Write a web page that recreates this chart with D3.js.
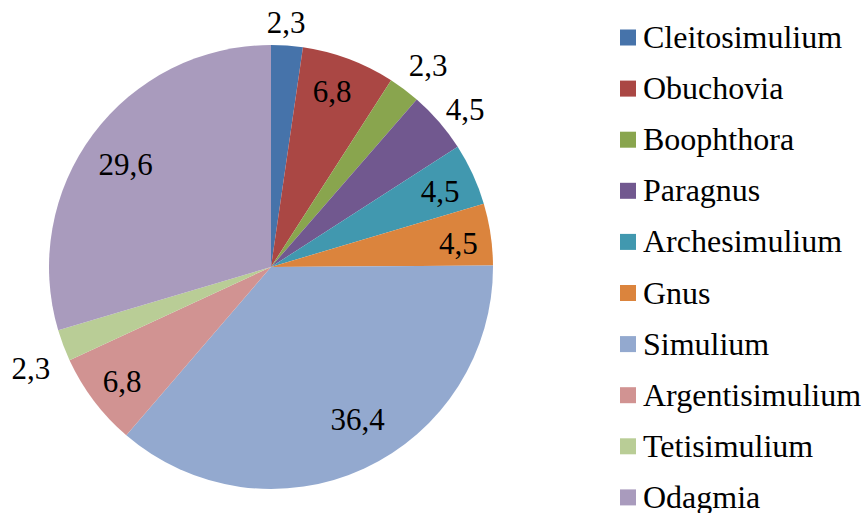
<!DOCTYPE html>
<html>
<head>
<meta charset="utf-8">
<script src="https://cdn.jsdelivr.net/npm/d3@7"></script>
</head>
<body style="margin:0">
<svg id="chart" width="864" height="513"></svg>
<script>
/******************************************************
 * Pie chart of genus shares (%)
*******************************************************/

//! DATA
const genera = ["Cleitosimulium", "Obuchovia", "Boophthora", "Paragnus", "Archesimulium",
                "Gnus", "Simulium", "Argentisimulium", "Tetisimulium", "Odagmia"];
const shares = [2.3, 6.8, 2.3, 4.5, 4.5, 4.5, 36.4, 6.8, 2.3, 29.6];
const colors = ["#4673AA", "#AA4744", "#89A54E", "#71588F", "#4198AF",
                "#DB843D", "#93A9CF", "#D19392", "#B9CD96", "#A99BBD"];

//! LAYOUT
const CX = 271;
const CY = 267;
const RADIUS = 222;
const FONT = "Liberation Serif";
const LABEL_SIZE = 31;
const LEGEND_SIZE = 32;
// label distance from centre (fraction of radius) and small angular nudge (deg)
const labelRadius = [1.10, 0.835, 1.149, 1.124, 0.833, 0.85, 0.79, 0.848, 1.175, 0.80];
const labelNudge  = [-0.6, -1.3, 1.1, 1.9, 0.8, 1.5, -4.8, -0.6, -2.3, -1.6];

const LEGEND_X = 620;
const LEGEND_Y = 37.5;
const LEGEND_STEP = 51.1;
const SWATCH = 16;

/******************************************************
 * Draw
*******************************************************/
function draw() {
    const svg = d3.select("#chart");

    const pie = d3.pie().sort(null).value(d => d)(shares);
    const arc = d3.arc().innerRadius(0).outerRadius(RADIUS);

    const g = svg.append("g").attr("transform", `translate(${CX},${CY})`);

    g.selectAll("path.slice")
        .data(pie)
        .enter().append("path")
        .attr("class", "slice")
        .attr("d", arc)
        .attr("fill", (d, i) => colors[i]);

    // Value labels (decimal comma)
    const mid = (d, i) => (d.startAngle + d.endAngle) / 2 + labelNudge[i] * Math.PI / 180;
    svg.selectAll("text.lbl")
        .data(pie)
        .enter().append("text")
        .attr("class", "lbl")
        .attr("x", (d, i) => CX + Math.sin(mid(d, i)) * RADIUS * labelRadius[i])
        .attr("y", (d, i) => CY - Math.cos(mid(d, i)) * RADIUS * labelRadius[i])
        .attr("text-anchor", "middle")
        .attr("dy", "0.33em")
        .attr("font-family", FONT)
        .attr("font-size", LABEL_SIZE)
        .text(d => String(d.data).replace(".", ","));

    // Legend
    const y = d3.scalePoint().domain(genera).range([LEGEND_Y, LEGEND_Y + LEGEND_STEP * (genera.length - 1)]);

    svg.selectAll("rect.sw")
        .data(genera)
        .enter().append("rect")
        .attr("class", "sw")
        .attr("x", LEGEND_X)
        .attr("y", d => y(d) - SWATCH / 2)
        .attr("width", SWATCH)
        .attr("height", SWATCH)
        .attr("fill", (d, i) => colors[i]);

    svg.selectAll("text.leg")
        .data(genera)
        .enter().append("text")
        .attr("class", "leg")
        .attr("x", LEGEND_X + SWATCH + 7)
        .attr("y", d => y(d))
        .attr("dy", "0.33em")
        .attr("font-family", FONT)
        .attr("font-size", LEGEND_SIZE)
        .text(d => d);
}

draw();
</script>
</body>
</html>
